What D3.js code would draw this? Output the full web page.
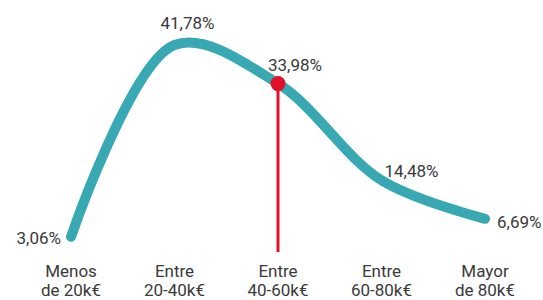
<!DOCTYPE html>
<html>

<head>
    <meta charset="utf-8">
    <title>Salarios</title>
    <script src="https://cdn.jsdelivr.net/npm/d3@7"></script>
    <style>
        * {
            padding: 0;
            margin: 0;
            box-sizing: border-box;
        }

        body {
            overflow: hidden;
            background: #fff;
        }

        text {
            font-family: Roboto, "Open Sans", sans-serif;
            fill: #3a3a3a;
        }
    </style>
</head>

<body>
    <div id="chart"></div>
</body>
<script>
    // datos
    const categories = ['Menos de 20k€', 'Entre 20-40k€', 'Entre 40-60k€', 'Entre 60-80k€', 'Mayor de 80k€']
    const tickLines = [
        ['Menos', 'de 20k€'],
        ['Entre', '20-40k€'],
        ['Entre', '40-60k€'],
        ['Entre', '60-80k€'],
        ['Mayor', 'de 80k€']
    ]
    const values = [3.06, 41.78, 33.98, 14.48, 6.69]
    const valueLabels = ['3,06%', '41,78%', '33,98%', '14,48%', '6,69%']
    const highlight = 'Entre 40-60k€'

    const width = 543
    const height = 300

    const svg = d3.select('#chart').append('svg')
        .attr('width', width)
        .attr('height', height)

    const x = d3.scalePoint()
        .domain(categories)
        .range([71, 485])

    const y = d3.scaleLinear()
        .domain([0, 45])
        .range([252, 29])

    const data = categories.map((c, i) => ({ cat: c, v: values[i], label: valueLabels[i], ticks: tickLines[i] }))

    const line = d3.line()
        .x(d => x(d.cat))
        .y(d => y(d.v))
        .curve(d3.curveCatmullRom.alpha(0.5))

    svg.append('path')
        .datum(data)
        .attr('d', line)
        .attr('fill', 'none')
        .attr('stroke', '#38a8b3')
        .attr('stroke-width', 10)
        .attr('stroke-linecap', 'round')
        .attr('stroke-linejoin', 'round')

    // linea roja
    const hl = data.find(d => d.cat == highlight)
    svg.append('line')
        .attr('x1', x(hl.cat))
        .attr('x2', x(hl.cat))
        .attr('y1', y(hl.v))
        .attr('y2', y(0))
        .attr('stroke', '#e3102c')
        .attr('stroke-width', 3)
    svg.append('circle')
        .attr('cx', x(hl.cat))
        .attr('cy', y(hl.v))
        .attr('r', 7.5)
        .attr('fill', '#e3102c')

    // etiquetas de valor
    const offsets = [
        { dx: -10, dy: 7, anchor: 'end' },
        { dx: 13, dy: -16, anchor: 'middle' },
        { dx: -10, dy: -13, anchor: 'start' },
        { dx: 3, dy: -3, anchor: 'start' },
        { dx: 12, dy: 9, anchor: 'start' }
    ]
    svg.selectAll('.val')
        .data(data)
        .enter().append('text')
        .attr('class', 'val')
        .attr('x', (d, i) => x(d.cat) + offsets[i].dx)
        .attr('y', (d, i) => y(d.v) + offsets[i].dy)
        .attr('text-anchor', (d, i) => offsets[i].anchor)
        .attr('font-size', 17)
        .text(d => d.label)

    // eje x
    const ticks = svg.selectAll('.tick')
        .data(data)
        .enter().append('text')
        .attr('class', 'tick')
        .attr('text-anchor', 'middle')
        .attr('font-size', 17)
    ticks.append('tspan')
        .attr('x', d => x(d.cat))
        .attr('y', 277)
        .text(d => d.ticks[0])
    ticks.append('tspan')
        .attr('x', d => x(d.cat))
        .attr('y', 296)
        .text(d => d.ticks[1])
</script>

</html>
